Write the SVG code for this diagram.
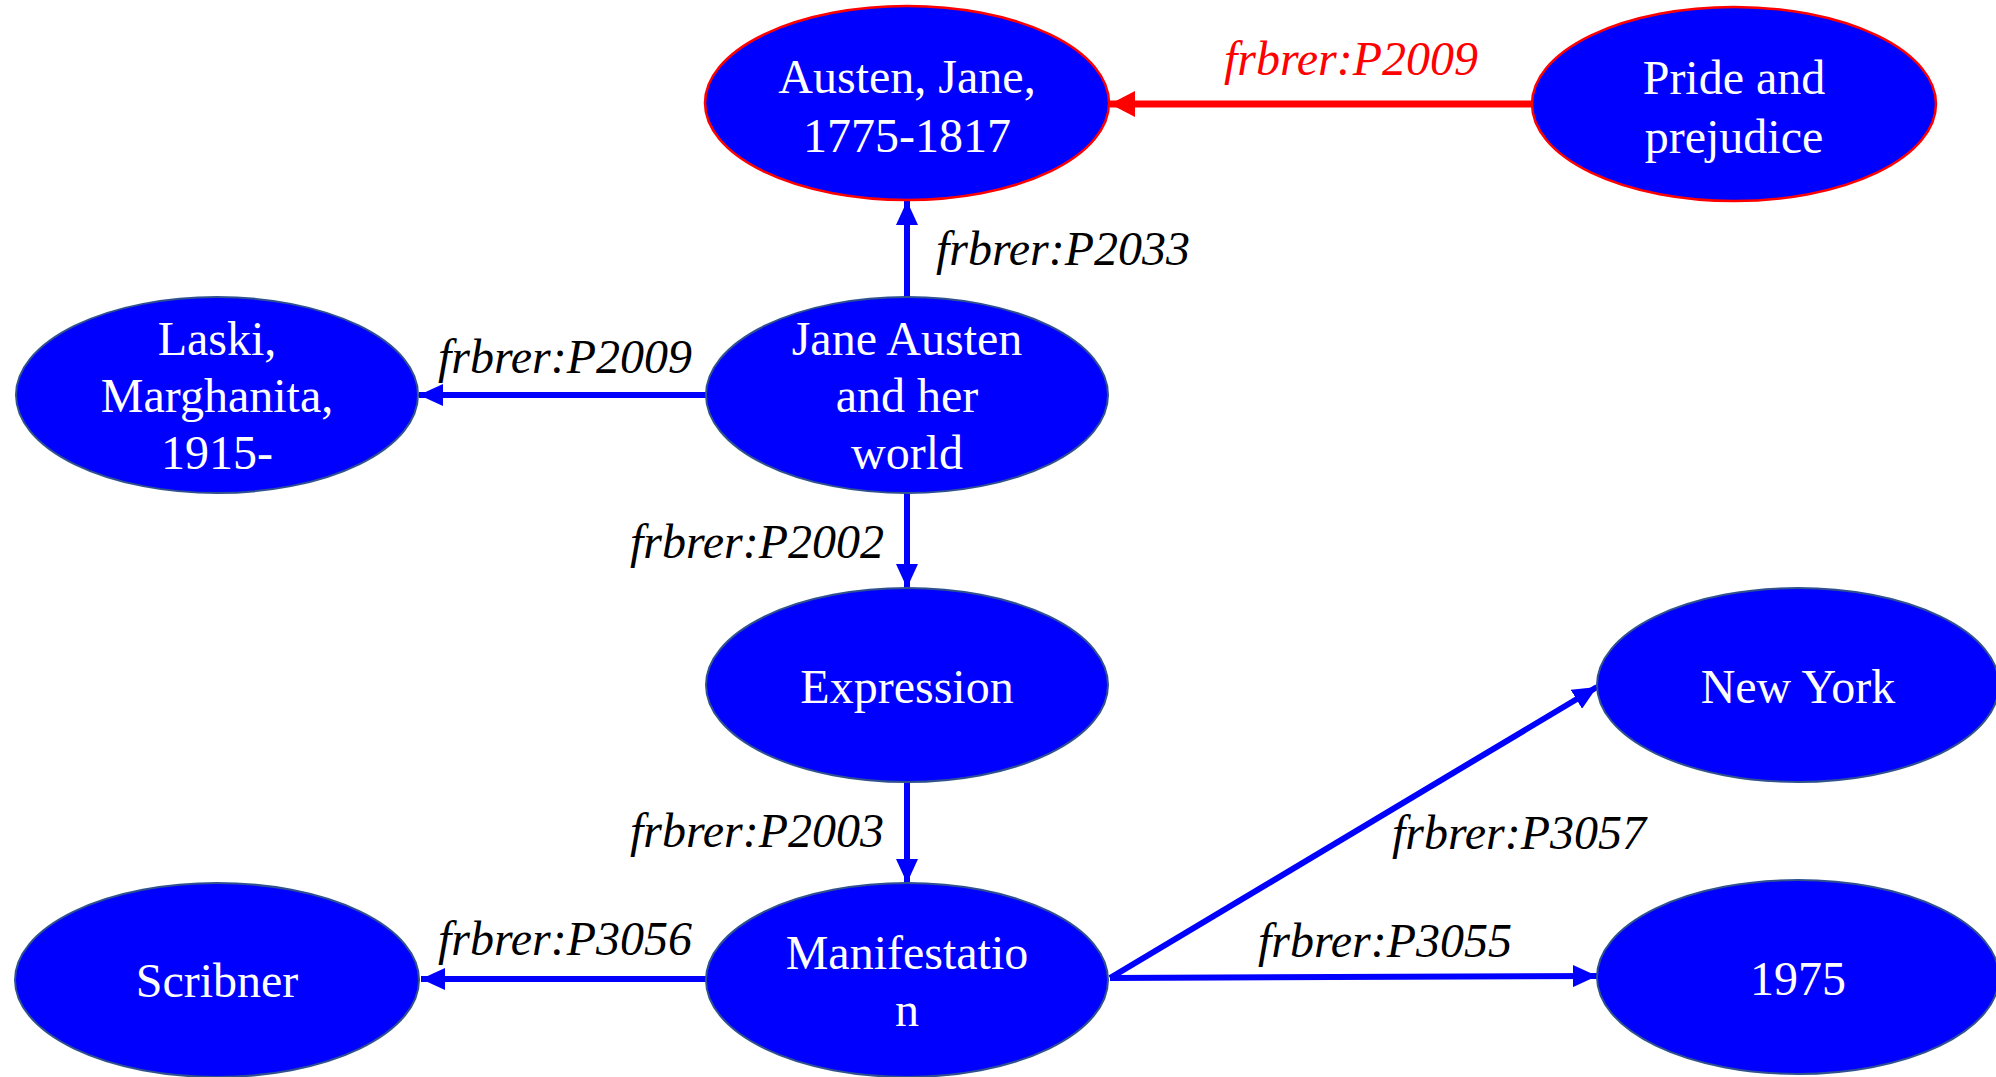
<svg xmlns="http://www.w3.org/2000/svg" width="1996" height="1077" viewBox="0 0 1996 1077">
<style>
.node{fill:#0000FF;stroke:#2F528F;stroke-width:2}
.rnode{fill:#0000FF;stroke:#FF0000;stroke-width:2.5}
.nt{font-family:"Liberation Serif","Times New Roman",serif;font-size:48px;fill:#FFFFFF;text-anchor:middle}
.lbl{font-family:"Liberation Serif","Times New Roman",serif;font-size:48px;font-style:italic;fill:#000000;text-anchor:middle}
.edge{stroke:#0000FF;stroke-width:6;fill:none;marker-end:url(#ab)}
.redge{stroke:#FF0000;stroke-width:7;fill:none;marker-end:url(#ar)}
</style>
<defs>
<marker id="ab" markerUnits="userSpaceOnUse" markerWidth="25" markerHeight="22" refX="24" refY="11" orient="auto"><path d="M0,0 L24,11 L0,22 Z" fill="#0000FF"/></marker>
<marker id="ar" markerUnits="userSpaceOnUse" markerWidth="26" markerHeight="26" refX="25" refY="13" orient="auto"><path d="M0,0 L25,13 L0,26 Z" fill="#FF0000"/></marker>
</defs>
<rect width="1996" height="1077" fill="#FFFFFF"/>
<g id="connectors">
<line class="redge" x1="1532" y1="104" x2="1110" y2="104"/>
<text class="lbl" x="1351" y="75" style="fill:#FF0000">frbrer:P2009</text>
<line class="edge" x1="907" y1="297" x2="907" y2="201"/>
<text class="lbl" x="1063" y="265">frbrer:P2033</text>
<line class="edge" x1="706" y1="395" x2="419" y2="395"/>
<text class="lbl" x="565" y="373">frbrer:P2009</text>
<line class="edge" x1="907" y1="492" x2="907" y2="588"/>
<text class="lbl" x="757" y="558">frbrer:P2002</text>
<line class="edge" x1="907" y1="782" x2="907" y2="883"/>
<text class="lbl" x="757" y="847">frbrer:P2003</text>
<line class="edge" x1="706" y1="979" x2="421" y2="979"/>
<text class="lbl" x="565" y="955">frbrer:P3056</text>
<line class="edge" x1="1110" y1="978" x2="1597" y2="976"/>
<text class="lbl" x="1385" y="957">frbrer:P3055</text>
<line class="edge" x1="1110" y1="978" x2="1597" y2="687"/>
<text class="lbl" x="1519" y="849">frbrer:P3057</text>
</g>
<g id="austen">
<ellipse class="rnode" cx="907" cy="103" rx="202" ry="97"/>
<text class="nt" x="907" y="93">Austen, Jane,</text>
<text class="nt" x="907" y="152">1775-1817</text>
</g>
<g id="pride">
<ellipse class="rnode" cx="1734" cy="104" rx="202" ry="97"/>
<text class="nt" x="1734" y="94">Pride and</text>
<text class="nt" x="1734" y="153">prejudice</text>
</g>
<g id="work">
<ellipse class="node" cx="907" cy="395" rx="201" ry="98"/>
<text class="nt" x="907" y="355">Jane Austen</text>
<text class="nt" x="907" y="412">and her</text>
<text class="nt" x="907" y="469">world</text>
</g>
<g id="laski">
<ellipse class="node" cx="217" cy="395" rx="201" ry="98"/>
<text class="nt" x="217" y="355">Laski,</text>
<text class="nt" x="217" y="412">Marghanita,</text>
<text class="nt" x="217" y="469">1915-</text>
</g>
<g id="expression">
<ellipse class="node" cx="907" cy="685" rx="201" ry="97"/>
<text class="nt" x="907" y="703">Expression</text>
</g>
<g id="newyork">
<ellipse class="node" cx="1798" cy="685" rx="201" ry="97"/>
<text class="nt" x="1798" y="703">New York</text>
</g>
<g id="manifestation">
<ellipse class="node" cx="907" cy="980" rx="201" ry="97"/>
<text class="nt" x="907" y="969">Manifestatio</text>
<text class="nt" x="907" y="1026">n</text>
</g>
<g id="scribner">
<ellipse class="node" cx="217" cy="980" rx="202" ry="97"/>
<text class="nt" x="217" y="997">Scribner</text>
</g>
<g id="year">
<ellipse class="node" cx="1798" cy="977" rx="201" ry="97"/>
<text class="nt" x="1798" y="995">1975</text>
</g>
</svg>
